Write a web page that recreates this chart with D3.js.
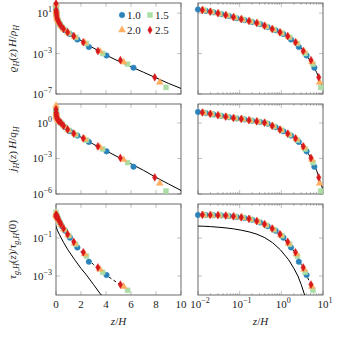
<!DOCTYPE html>
<html>
<head>
<meta charset="utf-8">
<script src="https://cdn.jsdelivr.net/npm/d3@7"></script>
<style>
  body { margin: 0; background: #fff; }
  text { font-family: "Liberation Serif", "DejaVu Serif", serif; fill: #222; }
</style>
</head>
<body>
<svg id="chart" width="337" height="337"></svg>
<script>
// legend / series
var seriesNames = ["1.0", "1.5", "2.0", "2.5"];
var seriesColors = ["#2b83ba", "#abdda4", "#fdae61", "#d7191c"];

// z/H positions of the markers, one grid per series
var zBlue   = [0.003, 0.01, 0.0154, 0.0236, 0.0362, 0.0555, 0.085, 0.131, 0.20, 0.31, 0.47, 0.73, 1.12, 1.71, 2.63, 4.04, 6.2];
var zGreen  = [0.003, 0.0142, 0.0218, 0.0334, 0.0513, 0.079, 0.121, 0.186, 0.285, 0.438, 0.67, 1.03, 1.58, 2.43, 3.73, 5.73, 8.8];
var zOrange = [0.003, 0.0134, 0.0205, 0.0315, 0.0484, 0.0743, 0.114, 0.175, 0.269, 0.413, 0.634, 0.973, 1.49, 2.3, 3.52, 5.41, 8.3];
var zRed    = [0.003, 0.0127, 0.0196, 0.030, 0.0461, 0.0707, 0.109, 0.167, 0.256, 0.393, 0.603, 0.926, 1.42, 2.18, 3.35, 5.15, 7.9];

// log10 of rho_H(z) H / rho_H
var rhoBlue   = [1.75, 1.36, 1.22, 1.08, 0.91, 0.71, 0.50, 0.32, 0.13, -0.09, -0.38, -0.70, -1.07, -1.62, -2.35, -3.2, -4.4];
var rhoGreen  = [1.8, 1.27, 1.11, 0.95, 0.76, 0.55, 0.36, 0.17, -0.04, -0.33, -0.64, -0.98, -1.4, -2.0, -3.0, -4.05, -6.35];
var rhoOrange = [1.85, 1.29, 1.13, 0.98, 0.79, 0.58, 0.39, 0.21, 0.01, -0.27, -0.59, -0.93, -1.32, -1.92, -2.78, -3.85, -5.85];
var rhoRed    = [1.95, 1.30, 1.14, 0.99, 0.80, 0.60, 0.40, 0.22, 0.02, -0.25, -0.57, -0.90, -1.28, -1.88, -2.75, -3.65, -5.35];

// log10 of j_H(z) H / q_H
var fluxBlue   = [1.05, 0.93, 0.83, 0.72, 0.60, 0.49, 0.38, 0.30, 0.19, 0.08, -0.06, -0.36, -0.70, -1.07, -1.6, -2.4, -3.7];
var fluxGreen  = [1.15, 0.86, 0.74, 0.62, 0.50, 0.40, 0.31, 0.20, 0.10, -0.03, -0.31, -0.62, -1.0, -1.45, -2.2, -3.35, -5.75];
var fluxOrange = [1.45, 0.87, 0.76, 0.64, 0.52, 0.41, 0.33, 0.22, 0.12, 0.01, -0.26, -0.58, -0.93, -1.35, -2.05, -3.1, -5.1];
var fluxRed    = [1.15, 0.88, 0.77, 0.65, 0.53, 0.42, 0.34, 0.23, 0.13, 0.02, -0.24, -0.56, -0.9, -1.3, -1.98, -2.95, -4.6];

// log10 of tau_gH(z) / tau_gH(0)
var tauBlue   = [0.22, 0.21, 0.21, 0.20, 0.19, 0.16, 0.11, 0.05, -0.04, -0.18, -0.38, -0.62, -0.98, -1.5, -2.25, -2.95];
var tauGreen  = [0.35, 0.21, 0.20, 0.19, 0.17, 0.12, 0.07, -0.02, -0.15, -0.33, -0.57, -0.88, -1.33, -1.95, -2.8, -3.75];
var tauOrange = [0.30, 0.21, 0.20, 0.19, 0.17, 0.13, 0.08, 0.0, -0.12, -0.29, -0.53, -0.84, -1.28, -1.85, -2.65, -3.55];
var tauRed    = [0.12, 0.22, 0.21, 0.20, 0.18, 0.14, 0.09, 0.01, -0.11, -0.27, -0.5, -0.8, -1.2, -1.75, -2.55, -3.45];

// black model curves (log10 values)
var curveZ   = [0.003, 0.009, 0.0135, 0.02, 0.03, 0.047, 0.072, 0.11, 0.17, 0.26, 0.4, 0.62, 0.95, 1.5, 2, 2.5, 3, 3.5, 4, 5, 6, 7, 8, 9, 10, 11.2];
var rhoCurve = [1.95, 1.40, 1.26, 1.12, 0.97, 0.78, 0.57, 0.38, 0.20, 0.0, -0.28, -0.60, -0.93, -1.33, -1.72, -2.1, -2.45, -2.8, -3.15, -3.75, -4.3, -4.85, -5.4, -5.95, -6.45, -7.0];
var fluxCurve = [1.25, 0.95, 0.86, 0.75, 0.64, 0.52, 0.41, 0.33, 0.22, 0.12, 0.0, -0.27, -0.58, -0.95, -1.2, -1.5, -1.8, -2.07, -2.35, -2.9, -3.45, -4.0, -4.6, -5.15, -5.7, -6.35];
var tauDashed = [0.22, 0.21, 0.21, 0.20, 0.19, 0.17, 0.13, 0.08, 0.0, -0.12, -0.29, -0.53, -0.84, -1.3, -1.7, -2.05, -2.4, -2.68, -2.95, -3.4, -3.85];
var tauSolid  = [-0.35, -0.37, -0.38, -0.40, -0.43, -0.47, -0.52, -0.59, -0.68, -0.80, -0.98, -1.25, -1.62, -2.15, -2.6, -3.0, -3.45, -3.9, -4.3, -5.1];

var linTicks = [0, 2, 4, 6, 8, 10];
var logXTicks = [-2, -1, 0, 1];
var yTickExp = [[1, -3, -7], [0, -3, -6], [-1, -3]];

var svg = d3.select("#chart");
svg.append("rect").attr("width", 337).attr("height", 337).attr("fill", "#fff");

var cols = [[56, 181], [198, 323]];
var rows = [[3, 94], [104, 194], [204, 295]];

var xLin = d3.scaleLinear().domain([0, 10]).range(cols[0]);
var xLog = d3.scaleLog().domain([0.01, 10]).range(cols[1]);
var xs = [xLin, xLog];

var yScales = [
  d3.scaleLog().domain([1e-7, 1e2]).range([rows[0][1], rows[0][0]]),
  d3.scaleLog().domain([1e-6, Math.pow(10, 1.6)]).range([rows[1][1], rows[1][0]]),
  d3.scaleLog().domain([1e-4, Math.pow(10, 0.79)]).range([rows[2][1], rows[2][0]])
];

var zData = [zBlue, zGreen, zOrange, zRed];
var rowData = [
  [rhoBlue, rhoGreen, rhoOrange, rhoRed],
  [fluxBlue, fluxGreen, fluxOrange, fluxRed],
  [tauBlue, tauGreen, tauOrange, tauRed]
];
var symbols = [
  d3.symbol().type(d3.symbolCircle).size(24),
  d3.symbol().type(d3.symbolSquare).size(24),
  d3.symbol().type(d3.symbolTriangle).size(20),
  d3.symbol().type(d3.symbolDiamond).size(17)
];

function expLabel(sel, x, y, anchor, exp) {
  var t = sel.append("text").attr("x", x).attr("y", y).attr("text-anchor", anchor)
    .attr("font-size", 11);
  t.append("tspan").text("10");
  t.append("tspan").attr("dy", -5).attr("font-size", 8)
    .text(exp < 0 ? "\u2212" + (-exp) : exp);
}

// rich text pieces: i = italic, n = normal, s = subscript italic
function richText(t, pieces) {
  var sub = false;
  pieces.forEach(function(p) {
    var ts = t.append("tspan").text(p[0]);
    if (p[1] == "s") {
      ts.attr("font-size", 8).attr("font-style", "italic").attr("dy", sub ? 0 : 2.5);
      sub = true;
    } else {
      ts.attr("font-style", p[1] == "i" ? "italic" : "normal").attr("dy", sub ? -2.5 : 0);
      sub = false;
    }
  });
}

var line = function(x, y) {
  return d3.line().x(function(d) { return x(d[0]); }).y(function(d) { return y(Math.pow(10, d[1])); });
};

rows.forEach(function(r, ri) {
  cols.forEach(function(c, ci) {
    var x = xs[ci], y = yScales[ri];
    var g = svg.append("g");
    var clipId = "clip" + ri + ci;
    g.append("clipPath").attr("id", clipId).append("rect")
      .attr("x", c[0]).attr("y", r[0]).attr("width", c[1] - c[0]).attr("height", r[1] - r[0]);

    // ticks (inward, both sides)
    var tk = g.append("g").attr("stroke", "#999").attr("stroke-width", 0.6);
    if (ci == 0) {
      linTicks.forEach(function(v) {
        tk.append("line").attr("x1", x(v)).attr("x2", x(v)).attr("y1", r[1]).attr("y2", r[1] - 4);
        tk.append("line").attr("x1", x(v)).attr("x2", x(v)).attr("y1", r[0]).attr("y2", r[0] + 4);
      });
    } else {
      for (var d = -3; d <= 1; d++) {
        for (var k = 1; k <= 9; k++) {
          var v = k * Math.pow(10, d);
          if (v < x.domain()[0] * 0.999 || v > x.domain()[1] * 1.001) continue;
          var len = k == 1 ? 4 : 2;
          tk.append("line").attr("x1", x(v)).attr("x2", x(v)).attr("y1", r[1]).attr("y2", r[1] - len);
          tk.append("line").attr("x1", x(v)).attr("x2", x(v)).attr("y1", r[0]).attr("y2", r[0] + len);
        }
      }
    }
    yTickExp[ri].forEach(function(e) {
      var yy = y(Math.pow(10, e));
      tk.append("line").attr("x1", c[0]).attr("x2", c[0] + 4).attr("y1", yy).attr("y2", yy);
      tk.append("line").attr("x1", c[1]).attr("x2", c[1] - 4).attr("y1", yy).attr("y2", yy);
    });

    g.append("rect").attr("x", c[0]).attr("y", r[0]).attr("width", c[1] - c[0]).attr("height", r[1] - r[0])
      .attr("fill", "none").attr("stroke", "#444").attr("stroke-width", 0.8);

    // model curves
    var lc = g.append("g").attr("clip-path", "url(#" + clipId + ")");
    if (ri < 2) {
      var vals = ri == 0 ? rhoCurve : fluxCurve;
      lc.append("path").datum(d3.zip(curveZ, vals)).attr("d", line(x, y))
        .attr("fill", "none").attr("stroke", "#000").attr("stroke-width", 1);
    } else {
      lc.append("path").datum(d3.zip(curveZ, tauSolid)).attr("d", line(x, y))
        .attr("fill", "none").attr("stroke", "#000").attr("stroke-width", 1);
    }

    // markers (right panels only show points inside the x range)
    zData.forEach(function(zs, si) {
      var pts = d3.zip(zs, rowData[ri][si]).filter(function(p) {
        return p[0] >= x.domain()[0] * 0.999 && p[0] <= x.domain()[1];
      });
      g.append("g").selectAll("path").data(pts).enter().append("path")
        .attr("d", symbols[si])
        .attr("transform", function(p) { return "translate(" + x(p[0]) + "," + y(Math.pow(10, p[1])) + ")"; })
        .attr("fill", seriesColors[si]).attr("stroke", seriesColors[si]).attr("stroke-width", 0.5);
    });

    if (ri == 2) {
      lc.append("path").datum(d3.zip(curveZ, tauDashed)).attr("d", line(x, y))
        .attr("fill", "none").attr("stroke", "#000").attr("stroke-width", 1)
        .attr("stroke-dasharray", "3,2.5");
    }

    // tick labels
    if (ci == 0) {
      yTickExp[ri].forEach(function(e) {
        expLabel(svg, c[0] - 4, y(Math.pow(10, e)) + 4, "end", e);
      });
    }
    if (ri == 2) {
      if (ci == 0) {
        linTicks.forEach(function(v) {
          svg.append("text").attr("x", x(v)).attr("y", r[1] + 13).attr("text-anchor", "middle")
            .attr("font-size", 11).text(v);
        });
      } else {
        logXTicks.forEach(function(e) {
          expLabel(svg, x(Math.pow(10, e)) + 2, r[1] + 13, "middle", e);
        });
      }
      var xt = svg.append("text").attr("x", (c[0] + c[1]) / 2).attr("y", r[1] + 30)
        .attr("text-anchor", "middle").attr("font-size", 11);
      richText(xt, [["z", "i"], ["/", "n"], ["H", "i"]]);
    }
  });
});

// y titles
var yTitles = [
  [["\u03f1", "i"], ["H", "s"], ["(", "n"], ["z", "i"], [")\u2009", "n"], ["H", "i"], ["/", "n"], ["\u03c1", "i"], ["H", "s"]],
  [["j", "i"], ["H", "s"], ["(", "n"], ["z", "i"], [")\u2009", "n"], ["H", "i"], ["/", "n"], ["q", "i"], ["H", "s"]],
  [["\u03c4", "i"], ["g,H", "s"], ["(", "n"], ["z", "i"], [")/", "n"], ["\u03c4", "i"], ["g,H", "s"], ["(0)", "n"]]
];
rows.forEach(function(r, ri) {
  var t = svg.append("text").attr("text-anchor", "middle").attr("font-size", 11)
    .attr("transform", "translate(16," + ((r[0] + r[1]) / 2) + ") rotate(-90)");
  richText(t, yTitles[ri]);
});

// legend
var legPos = [[122, 15], [150, 15], [122, 30], [150, 30]];
seriesNames.forEach(function(name, i) {
  svg.append("path").attr("d", symbols[i])
    .attr("transform", "translate(" + legPos[i][0] + "," + legPos[i][1] + ")")
    .attr("fill", seriesColors[i]).attr("stroke", seriesColors[i]).attr("stroke-width", 0.5);
  svg.append("text").attr("x", legPos[i][0] + 5).attr("y", legPos[i][1] + 4)
    .attr("font-size", 11).text(name);
});
</script>
</body>
</html>
